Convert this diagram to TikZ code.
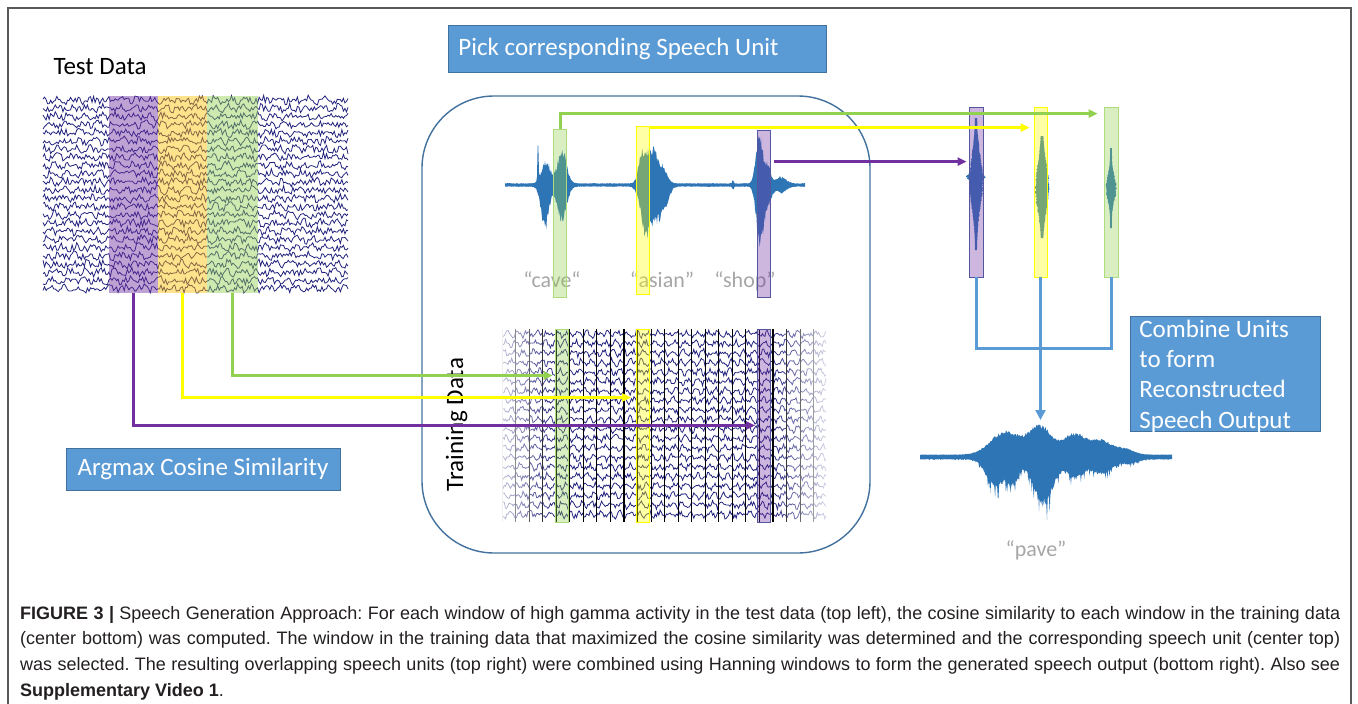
\documentclass[tikz,border=0pt]{standalone}
\usepackage{fontspec}
\setmainfont{Carlito}
\newfontfamily\capfont{Liberation Sans}
\usetikzlibrary{arrows.meta}
\usetikzlibrary{fadings}

\definecolor{boxblue}{HTML}{5B9BD5}
\definecolor{boxedge}{HTML}{41719C}
\definecolor{wavblue}{HTML}{2E75B6}
\definecolor{eegnavy}{HTML}{23237E}
\definecolor{unitgreen}{HTML}{92D050}
\definecolor{unitpurple}{HTML}{7030A0}
\definecolor{unityellow}{HTML}{FFFF00}
\definecolor{unitorange}{HTML}{FFC000}
\definecolor{wordgray}{HTML}{A6A6A6}
\definecolor{captext}{HTML}{231F20}

\tikzfading[name=fadeout right, left color=transparent!0, right color=transparent!100]
\tikzfading[name=fadeout left, left color=transparent!100, right color=transparent!0]

\begin{document}
\begin{tikzpicture}[x=1pt, y=-1pt,
    declare function={
        gs(\ga,\gm,\gw)=exp(-min(abs((\ga-\gm)/\gw),3)^2);
        upS(\q)=1.8+50*gs(\q,538,0.7)+24*gs(\q,546,6)+36*gs(\q,562,6.5)+30*gs(\q,642,5)+40*gs(\q,652,7)+16*gs(\q,663,6)+4*gs(\q,733,1)+55*gs(\q,759,4.5)+22*gs(\q,767,4.5)+7*gs(\q,781,7);
        dnS(\q)=1.8+45*gs(\q,545,5.5)+37*gs(\q,562,6.5)+55*gs(\q,646,7)+35*gs(\q,658,7)+12*gs(\q,667,5)+4*gs(\q,733,1)+66*gs(\q,760,5)+18*gs(\q,768,5)+7*gs(\q,781,7);
        upO(\q)=2.5+24*gs(\q,1005,20)+30*gs(\q,1040,16)+22*gs(\q,1075,16)+14*gs(\q,1102,14)+6*gs(\q,1125,12);
        dnO(\q)=2.5+30*gs(\q,995,12)+25*gs(\q,1013,8)+48*gs(\q,1043,14)+20*gs(\q,1075,12)+16*gs(\q,1102,14)+5*gs(\q,1130,10);
        spP(\q)=1+6.5*gs(\q,182,35)+3*gs(\q,177,2.5);
        spY(\q)=1+6.5*gs(\q,187,32);
        spG(\q)=1+5*gs(\q,188,16);
    },
    eegline/.style={eegnavy, line width=0.8pt},
    band/.style={draw=none, inner sep=0pt, fill opacity=0.45, minimum height=197},
    unitwin/.style={inner sep=0pt, line width=0.8pt, fill opacity=0.35, minimum width=13},
    bluebox/.style={fill=boxblue, draw=boxedge, line width=0.8pt, text=white, font=\fontsize{25}{30.3}\selectfont},
    word/.style={text=wordgray, font=\fontsize{22}{26}\selectfont},
    link/.style={line width=3pt, -{Triangle[length=9pt, width=8pt]}},
    combline/.style={boxblue, line width=3pt},
    ]
    \useasboundingbox (0,0) rectangle (1358,704);
    \draw[gray!70!black, line width=1.5pt] (8,704) -- (8,8) -- (1351,8) -- (1351,704);

    % test data block
    \node[anchor=base west, font=\fontsize{25}{30}\selectfont] (testlbl) at (50,74) {Test Data};
    \pgfmathsetseed{7}
    \foreach \r in {0,...,23}
        \draw[eegline] plot[variable=\t, domain=43:348, samples=200] (\t, {100+8.2*\r+3.4*rand+1.6*sin(23*\t+57*\r)});
    \node[band, fill=unitpurple, minimum width=49] (bandP) at (133.5,194.5) {};
    \node[band, fill=unitorange, minimum width=49] (bandO) at (182.5,194.5) {};
    \node[band, fill=unitgreen, minimum width=51] (bandG) at (232.5,194.5) {};

    % region around the training material
    \draw[boxedge, line width=1.4pt, rounded corners=72pt] (422,96) rectangle (870,553);
    \node[bluebox, anchor=north west, minimum height=47, text width=358pt, align=left, inner xsep=10pt] (pick) at (448,25) {\spaceskip=0pt Pick corresponding Speech Unit};

    % speech recording
    \fill[wavblue] plot[variable=\t, domain=505:805, samples=451] (\t, {185-upS(\t)*(0.7+0.3*rnd)})
        -- plot[variable=\t, domain=805:505, samples=451] (\t, {185+dnS(\t)*(0.7+0.3*rnd)}) -- cycle;
    \node[word, anchor=base] (wcave) at (552,287) {“cave“};
    \node[word, anchor=base] (wasian) at (662,287) {“asian”};
    \node[word, anchor=base] (wshop) at (745,287) {“shop”};
    \node[unitwin, fill=unitgreen, draw=unitgreen!75!white, minimum height=168] (cavW) at (560,213) {};
    \node[unitwin, fill=unityellow, draw=unityellow, minimum height=168] (asiW) at (642.5,210) {};
    \node[unitwin, fill=unitpurple, draw=boxedge!60!unitpurple, minimum height=167] (shpW) at (764,213.5) {};

    % training data
    \node[rotate=90, anchor=base, font=\fontsize{25}{30}\selectfont] (trainlbl) at (463,424.5) {Training Data};
    \foreach \r in {0,...,19}
        \draw[eegline] plot[variable=\t, domain=503:826, samples=260] (\t, {334+9.5*\r+2.6*rand+2*sin(36*(\t-500)+71*\r)});
    \draw[gray!40, line width=1pt] (502,329) -- ++(0,193);
    \foreach \k in {1,...,23}
        \draw[black, line width=1.1pt] ({502+13.55*\k},329) -- ++(0,193);
    \fill[white, fill opacity=0.8, path fading=fadeout right] (496,325) rectangle (556,527);
    \fill[white, fill opacity=0.9, path fading=fadeout left] (772,325) rectangle (832,527);
    \node[unitwin, fill=unitgreen, draw=unitgreen!75!white, minimum height=193] (trG) at (561.5,425.5) {};
    \node[unitwin, fill=unityellow, draw=unityellow, minimum height=193] (trY) at (643,425.5) {};
    \node[unitwin, fill=unitpurple, draw=boxedge!60!unitpurple, minimum height=193] (trP) at (764,425.5) {};

    % selected units
    \fill[wavblue] plot[variable=\t, domain=118:250, samples=160] ({976-spP(\t)*(0.75+0.25*rnd)}, \t)
        -- plot[variable=\t, domain=250:118, samples=160] ({976+spP(\t)*(0.75+0.25*rnd)}, \t) -- cycle;
    \fill[wavblue] plot[variable=\t, domain=136:238, samples=130] ({1042-spY(\t)*(0.7+0.3*rnd)}, \t)
        -- plot[variable=\t, domain=238:136, samples=130] ({1042+spY(\t)*(0.8+0.2*rnd)}, \t) -- cycle;
    \fill[wavblue] plot[variable=\t, domain=148:228, samples=110] ({1111-spG(\t)*(0.7+0.3*rnd)}, \t)
        -- plot[variable=\t, domain=228:148, samples=110] ({1111+spG(\t)*(0.7+0.3*rnd)}, \t) -- cycle;
    \node[unitwin, fill=unitpurple, draw=boxedge!60!unitpurple, minimum width=14, minimum height=170] (outP) at (976,192) {};
    \node[unitwin, fill=unityellow, draw=unityellow, minimum height=170] (outY) at (1040.5,192) {};
    \node[unitwin, fill=unitgreen, draw=unitgreen!75!white, minimum width=14, minimum height=170] (outG) at (1111,192) {};

    % argmax links
    \draw[link, unitgreen, shorten >=2pt] (bandG.south) |- ([yshift=50pt]trG.west);
    \draw[link, unityellow, shorten >=5pt] (bandO.south) |- ([yshift=28pt]trY.west);
    \draw[link, unitpurple, shorten >=2pt] (bandP.south) |- (trP.west);
    \node[bluebox, minimum width=274, minimum height=42] (argmax) at (203,469) {Argmax Cosine Similarity};

    % picked units to the output
    \draw[link, unitgreen, shorten >=6pt] (cavW.north) |- ([yshift=-7pt]outG.north west);
    \draw[link, unityellow, shorten >=4pt] ([yshift=-2pt]asiW.north east) -- ([yshift=-21pt]outY.north west);
    \draw[link, unitpurple, shorten <=3pt, shorten >=2pt] ([yshift=-32pt]shpW.north east) -- ([yshift=-55pt]outP.north west);

    % combining
    \coordinate (paveTop) at (1040.5,420);
    \draw[combline] (outP.south) -- ++(0,71) -| (outG.south);
    \draw[combline, -{Triangle[length=10pt, width=10pt]}] (outY.south) -- (paveTop);
    \node[bluebox, anchor=north west, text width=172pt, align=left, inner xsep=9pt, inner ysep=3.5pt, text depth=91pt] (combine) at (1130,316) {\spaceskip=0pt Combine Units\\to form\\Reconstructed\\Speech Output};
    \fill[wavblue] plot[variable=\t, domain=920:1172, samples=380] (\t, {457-upO(\t)*(0.85+0.15*rnd)})
        -- plot[variable=\t, domain=1172:920, samples=380] (\t, {457+dnO(\t)*(0.8+0.2*rnd+0.35*(rnd>0.85))}) -- cycle;
    \node[word, anchor=base] (wpave) at (1036,556) {“pave”};

    % caption
    \node[anchor=north west, text width=1320pt, align=justify, inner sep=0pt, text=captext, font={\capfont\fontsize{18}{25.7}\selectfont}] (caption) at (20,606) {\hyphenpenalty=10000 \frenchspacing \textbf{FIGURE 3 |} Speech Generation Approach: For each window of high gamma activity in the test data (top left), the cosine similarity to each window in the training data\linebreak (center bottom) was computed. The window in the training data that maximized the cosine similarity was determined and the corresponding speech unit (center top)\linebreak was selected. The resulting overlapping speech units (top right) were combined using Hanning windows to form the generated speech output (bottom right). Also see\linebreak \textbf{Supplementary Video 1}.};
\end{tikzpicture}
\end{document}
